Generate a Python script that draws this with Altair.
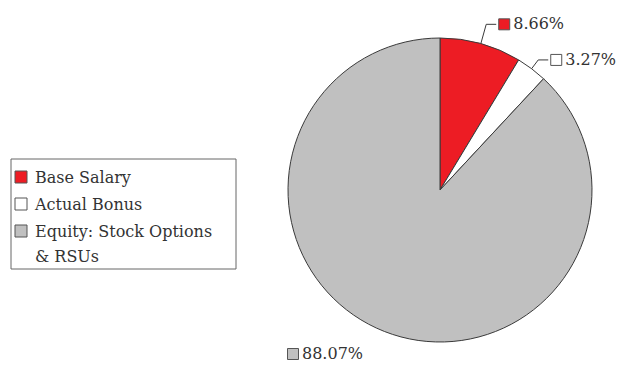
import math
import altair as alt
import pandas as pd

# ---- data ----
categories = ["Base Salary", "Actual Bonus", "Equity: Stock Options & RSUs"]
legend_labels = ["Base Salary", "Actual Bonus", "Equity: Stock Options\n& RSUs"]
values = [8.66, 3.27, 88.07]
pct_labels = ["8.66%", "3.27%", "88.07%"]
colors = ["#ed1c24", "#ffffff", "#c0c0c0"]

# ---- layout constants ----
W, H = 627, 365
CX, CY, R = 440, 190, 152
LEADER_LEN = [20, 11]
FONT = "DejaVu Serif"
FS = 16
TXT = "#333333"
LINE = "#3a3a3a"

total = sum(values)
rows = []
lead = []
cum = 0.0
for i, (c, v, lab) in enumerate(zip(categories, values, pct_labels)):
    a0 = cum / total * 2 * math.pi
    cum += v
    a1 = cum / total * 2 * math.pi
    mid = (a0 + a1) / 2
    if i < 2:
        L = LEADER_LEN[i]
        ex, ey = CX + R * math.sin(mid), CY - R * math.cos(mid)
        bx, by = CX + (R + L) * math.sin(mid), CY - (R + L) * math.cos(mid)
        hx = bx + 10
        for k, (px, py) in enumerate([(ex, ey), (bx, by), (hx, by)]):
            lead.append({"category": c, "k": k, "px": px, "py": py})
        sx, sy = hx + 8, by
    else:
        sx, sy = CX - R + 5, CY + R + 12
    rows.append({"category": c, "value": v, "idx": i, "label": lab,
                 "sx": sx, "sy": sy, "tx": sx + 9,
                 "legend": legend_labels[i],
                 "lx": 21, "ly": 177 + 27 * i, "ltx": 35, "lty": 183 + 27 * i})

df = pd.DataFrame(rows)
lead_df = pd.DataFrame(lead)
color_scale = alt.Scale(domain=categories, range=colors)

base = alt.Chart(df)

pie = base.mark_arc(outerRadius=R, stroke=LINE, strokeWidth=1).encode(
    theta=alt.Theta("value:Q", stack=True),
    color=alt.Color("category:N", scale=color_scale, legend=None),
    order=alt.Order("idx:Q"),
    x=alt.value(CX),
    y=alt.value(CY),
)

leaders = alt.Chart(lead_df).mark_line(color=LINE, strokeWidth=1).encode(
    x=alt.X("px:Q", scale=None),
    y=alt.Y("py:Q", scale=None),
    detail="category:N",
    order="k:Q",
)

lab_sq = base.mark_point(shape="square", filled=True, size=121, stroke="#555555", strokeWidth=1, opacity=1).encode(
    x=alt.X("sx:Q", scale=None),
    y=alt.Y("sy:Q", scale=None),
    fill=alt.Color("category:N", scale=color_scale, legend=None),
)

lab_txt = base.mark_text(align="left", baseline="middle", font=FONT, fontSize=FS, color=TXT).encode(
    x=alt.X("tx:Q", scale=None),
    y=alt.Y("sy:Q", scale=None),
    text="label:N",
)

legend_box = alt.Chart(pd.DataFrame({"a": [0]})).mark_rect(
    fill="white", stroke="#666666", strokeWidth=1
).encode(x=alt.value(11), x2=alt.value(236), y=alt.value(159), y2=alt.value(269))

leg_sq = base.mark_point(shape="square", filled=True, size=144, stroke="#555555", strokeWidth=1, opacity=1).encode(
    x=alt.X("lx:Q", scale=None),
    y=alt.Y("ly:Q", scale=None),
    fill=alt.Color("category:N", scale=color_scale, legend=None),
)

leg_txt = base.mark_text(align="left", baseline="alphabetic", font=FONT, fontSize=FS,
                         color=TXT, lineBreak="\n", lineHeight=25).encode(
    x=alt.X("ltx:Q", scale=None),
    y=alt.Y("lty:Q", scale=None),
    text="legend:N",
)

chart = alt.layer(pie, leaders, lab_sq, lab_txt, legend_box, leg_sq, leg_txt).properties(
    width=W, height=H, padding=0, autosize=alt.AutoSizeParams(type="none"), background="white"
).configure_view(stroke=None)

chart.save("out.html", embed_options={"renderer": "svg", "actions": False})
